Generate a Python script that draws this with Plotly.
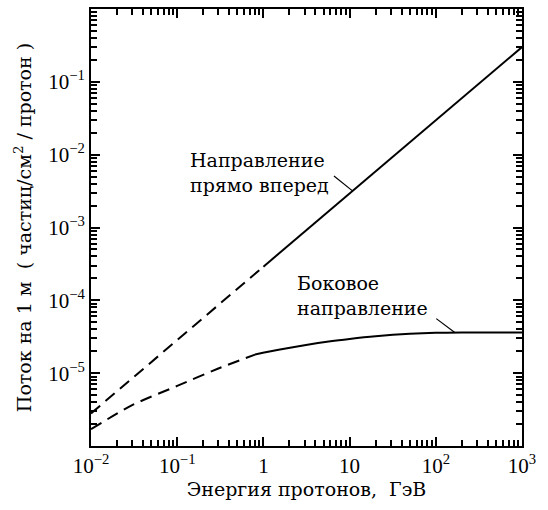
import numpy as np
import plotly.graph_objects as go

# Forward direction flux (particles/cm^2/proton at 1 m)
fwd_E_dash = [0.01, 1.0]
fwd_F_dash = [2.8e-6, 2.9e-4]
fwd_E_solid = [1.0, 10.0, 100.0, 1000.0]
fwd_F_solid = [2.9e-4, 2.95e-3, 2.95e-2, 0.30]

# Side direction flux
side_E_dash = [0.01, 0.03, 0.1, 0.3, 0.8]
side_F_dash = [1.70e-6, 3.63e-6, 6.68e-6, 1.16e-5, 1.80e-5]
side_E_solid = [0.8, 1.5, 3.0, 6.0, 10.0, 20.0, 50.0, 100.0, 200.0, 1000.0]
side_F_solid = [1.80e-5, 2.09e-5, 2.42e-5, 2.74e-5, 2.95e-5, 3.21e-5, 3.47e-5, 3.59e-5, 3.63e-5, 3.63e-5]

x_tickvals = [1e-2, 1e-1, 1, 10, 100, 1000]
x_ticktext = ["10<sup>−2</sup>", "10<sup>−1</sup>", "1", "10", "10<sup>2</sup>", "10<sup>3</sup>"]
y_tickvals = [1e-5, 1e-4, 1e-3, 1e-2, 1e-1]
y_ticktext = ["10<sup>−5</sup>", "10<sup>−4</sup>", "10<sup>−3</sup>", "10<sup>−2</sup>", "10<sup>−1</sup>"]

minor_vals = [m * 10.0 ** k for k in range(-6, 3) for m in range(2, 10)]

SERIF = "DejaVu Serif"
NUMF = "Liberation Serif"

fig = go.Figure()
lw = 2
dash = "12px,7px"
fig.add_trace(go.Scatter(x=fwd_E_dash, y=fwd_F_dash, mode="lines",
                         line=dict(color="black", width=lw, dash=dash)))
fig.add_trace(go.Scatter(x=fwd_E_solid, y=fwd_F_solid, mode="lines",
                         line=dict(color="black", width=lw)))
fig.add_trace(go.Scatter(x=side_E_dash, y=side_F_dash, mode="lines",
                         line=dict(color="black", width=lw, dash=dash, shape="spline", smoothing=0.8)))
fig.add_trace(go.Scatter(x=side_E_solid, y=side_F_solid, mode="lines",
                         line=dict(color="black", width=lw, shape="spline", smoothing=0.8)))

axis_common = dict(
    type="log", showgrid=False, zeroline=False,
    showline=True, linecolor="black", linewidth=2, mirror="allticks",
    ticks="inside", ticklen=9, tickwidth=1.5, tickcolor="black",
    tickmode="array",
    minor=dict(ticks="inside", ticklen=6, tickwidth=1.5, tickcolor="black",
               tickmode="array", tickvals=minor_vals, showgrid=False),
    tickfont=dict(family=NUMF, size=21, color="black"),
)

fig.update_xaxes(**axis_common, range=[-2, 3], tickvals=x_tickvals, ticktext=x_ticktext,
                 title=dict(text="Энергия протонов,  ГэВ", font=dict(family=SERIF, size=19, color="black"),
                            standoff=5))
fig.update_yaxes(**axis_common, range=[-6, 0], tickvals=y_tickvals, ticktext=y_ticktext,
                 title=dict(text="Поток на 1 м  ( частиц/см<sup>2</sup> / протон )",
                            font=dict(family=SERIF, size=19, color="black"), standoff=12))

# pointer lines
fx = 10.8
fy = np.interp(np.log10(fx), np.log10(fwd_E_solid), np.log10(fwd_F_solid))
fig.add_annotation(x=np.log10(fx), y=fy, ax=-20, ay=-16, text="", showarrow=True,
                   arrowhead=0, arrowwidth=1.2, arrowcolor="black")
sx = 166
sy = np.interp(np.log10(sx), np.log10(side_E_solid), np.log10(side_F_solid))
fig.add_annotation(x=np.log10(sx), y=sy, ax=-20, ay=-15, text="", showarrow=True,
                   arrowhead=0, arrowwidth=1.2, arrowcolor="black")

fig.add_annotation(x=-0.87, y=-1.90, text="Направление<br>прямо вперед", showarrow=False,
                   xanchor="left", yanchor="top", align="left",
                   font=dict(family=SERIF, size=19, color="black"))
fig.add_annotation(x=0.37, y=-3.58, text="Боковое<br>направление", showarrow=False,
                   xanchor="left", yanchor="top", align="left",
                   font=dict(family=SERIF, size=19, color="black"))

fig.update_layout(
    width=548, height=510,
    margin=dict(l=91, r=26, t=7, b=64),
    paper_bgcolor="white", plot_bgcolor="white",
    showlegend=False,
)

fig.write_html("out.html")
